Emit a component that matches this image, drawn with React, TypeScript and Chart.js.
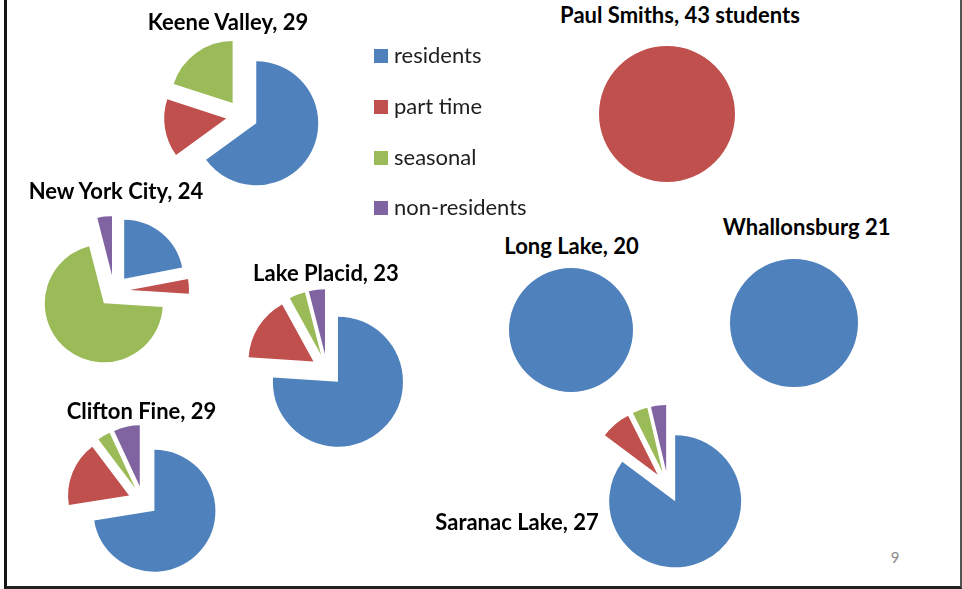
import React, { useEffect, useRef } from "react";
import { Chart, registerables } from "chart.js";

Chart.register(...registerables);

// ---- data (share of each group) ----
const categories = ["residents", "part time", "seasonal", "non-residents"];
const seriesColors = ["#4F81BD", "#C0504D", "#9BBB59", "#8064A2"];

const keeneValley = [65, 15, 20, 0];
const paulSmiths = [0, 100, 0, 0];
const newYorkCity = [22, 4, 70, 4];
const lakePlacid = [76, 16, 4, 4];
const longLake = [100, 0, 0, 0];
const whallonsburg = [100, 0, 0, 0];
const cliftonFine = [72.4, 17.2, 3.4, 6.9];
const saranacLake = [85.2, 7.4, 3.7, 3.7];

const titleLabels = [
  "Keene Valley, 29",
  "Paul Smiths, 43 students",
  "New York City, 24",
  "Lake Placid, 23",
  "Long Lake, 20",
  "Whallonsburg 21",
  "Clifton Fine, 29",
  "Saranac Lake, 27",
];
const pageNumber = "9";

// ---- layout (positions / sizes only) ----
type PieLayout = {
  data: number[];
  title: string;
  cx: number;
  cy: number;
  r: number;
  explode: number;
  tx: number;
  tBase: number;
};

const pies: PieLayout[] = [
  { data: keeneValley, title: titleLabels[0], cx: 242.4, cy: 116, r: 62, explode: 16, tx: 228, tBase: 31 },
  { data: paulSmiths, title: titleLabels[1], cx: 667.3, cy: 114, r: 68, explode: 0, tx: 680, tBase: 23.3 },
  { data: newYorkCity, title: titleLabels[2], cx: 113.5, cy: 291, r: 59, explode: 16, tx: 116, tBase: 199.3 },
  { data: lakePlacid, title: titleLabels[3], cx: 327.3, cy: 370, r: 65, explode: 16, tx: 326, tBase: 281.7 },
  { data: longLake, title: titleLabels[4], cx: 570.8, cy: 329.7, r: 62, explode: 0, tx: 571.5, tBase: 255 },
  { data: whallonsburg, title: titleLabels[5], cx: 793.8, cy: 322.8, r: 64, explode: 0, tx: 806.7, tBase: 236 },
  { data: cliftonFine, title: titleLabels[6], cx: 142.6, cy: 501.3, r: 61, explode: 15, tx: 141.5, tBase: 419.3 },
  { data: saranacLake, title: titleLabels[7], cx: 667.7, cy: 487.4, r: 66, explode: 16, tx: 517, tBase: 530.7 },
];

const TITLE_FONT = 22;
const LEGEND_FONT = 22;
const ASC = 0.887; // baseline offset (em) for line-height 1 with Lato

// Explode every slice away from the pie centre along its mid angle
const explodePlugin = {
  id: "explode",
  beforeDatasetsDraw(chart: any, _args: any, opts: any) {
    const dist = (opts && opts.distance) || 0;
    const meta = chart.getDatasetMeta(0);
    const { left, right, top, bottom } = chart.chartArea;
    const cx = (left + right) / 2;
    const cy = (top + bottom) / 2;
    meta.data.forEach((arc: any) => {
      const mid = (arc.startAngle + arc.endAngle) / 2;
      arc.x = cx + Math.cos(mid) * dist;
      arc.y = cy + Math.sin(mid) * dist;
    });
  },
};

function PieChart({ p }: { p: PieLayout }) {
  const ref = useRef<HTMLCanvasElement | null>(null);
  const size = Math.ceil(2 * (p.r + p.explode + 6));
  useEffect(() => {
    if (!ref.current) return;
    const chart = new Chart(ref.current, {
      type: "pie",
      data: {
        labels: categories,
        datasets: [
          {
            data: p.data,
            backgroundColor: seriesColors,
            borderWidth: 0,
          },
        ],
      },
      options: {
        animation: false,
        responsive: false,
        maintainAspectRatio: false,
        events: [],
        radius: p.r,
        layout: { padding: 0 },
        plugins: {
          legend: { display: false },
          tooltip: { enabled: false },
          title: { display: false },
          explode: { distance: p.explode },
        } as any,
      } as any,
      plugins: [explodePlugin],
    });
    return () => chart.destroy();
  }, []);
  return (
    <canvas
      ref={ref}
      width={size}
      height={size}
      style={{
        position: "absolute",
        left: p.cx - size / 2,
        top: p.cy - size / 2,
        width: size,
        height: size,
      }}
    />
  );
}

export default function App() {
  const legendTops = [49, 100, 151, 201];
  return (
    <div
      style={{
        position: "absolute",
        left: 0,
        top: 0,
        width: 962,
        height: 589,
        background: "#fff",
        overflow: "hidden",
        fontFamily: "Lato, 'Open Sans', sans-serif",
      }}
    >
      {/* slide frame */}
      <div
        style={{
          position: "absolute",
          left: 4,
          top: -4,
          width: 962 - 4 - 3 - 2,
          height: 590,
          borderLeft: "3px solid #151515",
          borderRight: "2px solid #555",
          borderBottom: "3px solid #222",
        }}
      />
      {pies.map((p, i) => (
        <PieChart key={"pie" + i} p={p} />
      ))}
      {pies.map((p, i) => (
        <div
          key={"t" + i}
          style={{
            position: "absolute",
            left: p.tx,
            top: p.tBase - ASC * TITLE_FONT,
            transform: "translateX(-50%)",
            whiteSpace: "nowrap",
            fontSize: TITLE_FONT,
            lineHeight: 1,
            fontWeight: 700,
            color: "#000",
          }}
        >
          {p.title}
        </div>
      ))}
      {categories.map((c, i) => (
        <React.Fragment key={"l" + i}>
          <div
            style={{
              position: "absolute",
              left: 374,
              top: legendTops[i],
              width: 14,
              height: 14,
              background: seriesColors[i],
            }}
          />
          <div
            style={{
              position: "absolute",
              left: 394,
              top: legendTops[i] + 14.3 - ASC * LEGEND_FONT,
              whiteSpace: "nowrap",
              fontSize: LEGEND_FONT,
              lineHeight: 1,
              color: "#1e1e1e",
            }}
          >
            {c}
          </div>
        </React.Fragment>
      ))}
      <div
        style={{
          position: "absolute",
          left: 895,
          top: 563 - ASC * 15,
          transform: "translateX(-50%)",
          fontSize: 15,
          lineHeight: 1,
          color: "#8c8c8c",
        }}
      >
        {pageNumber}
      </div>
    </div>
  );
}
